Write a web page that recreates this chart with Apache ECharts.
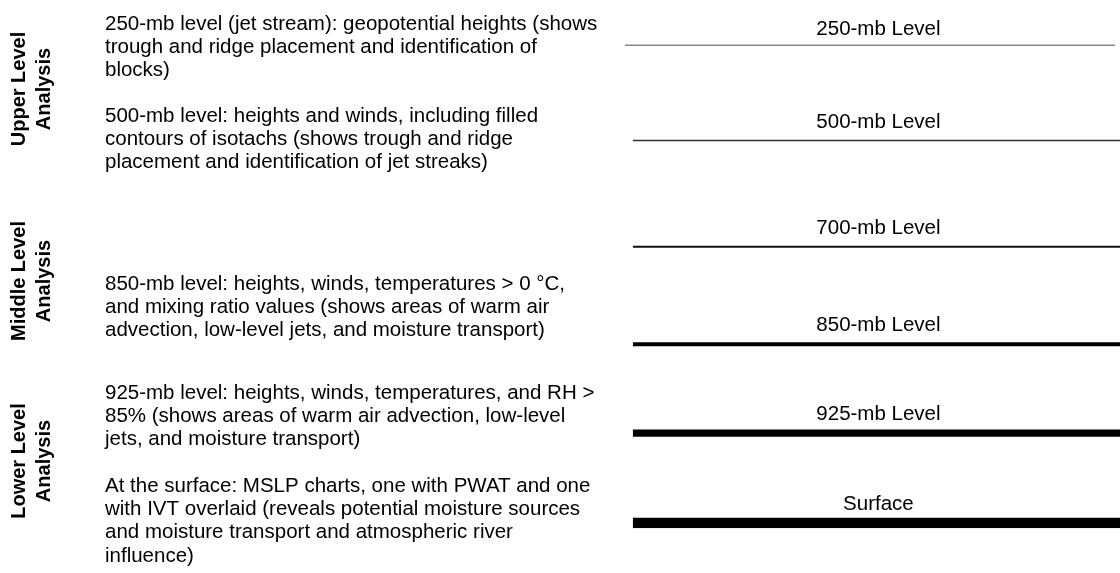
<!DOCTYPE html>
<html>
<head>
<meta charset="utf-8">
<script src="https://cdn.jsdelivr.net/npm/echarts@6/dist/echarts.min.js"></script>
<style>
  html, body { margin: 0; padding: 0; background: #fff; }
  #levels { width: 1120px; height: 573px; }
</style>
</head>
<body>
<div id="levels"></div>
<script>
  // pressure levels, top to bottom
  const levelNames = ['250-mb Level', '500-mb Level', '700-mb Level', '850-mb Level', '925-mb Level', 'Surface']
  const levelRow = [0, 1, 2.11, 3.13, 4.06, 5]          // place on the hidden vertical axis
  const lineSpan = [[0, 0.99], [0.016, 1], [0.016, 1], [0.016, 1], [0.016, 1], [0.016, 1]]
  const labelAt = 0.512

  const sections = ['Upper Level\nAnalysis', 'Middle Level\nAnalysis', 'Lower Level\nAnalysis']
  const descriptions = [
    '250-mb level (jet stream): geopotential heights (shows\ntrough and ridge placement and identification of\nblocks)',
    '500-mb level: heights and winds, including filled\ncontours of isotachs (shows trough and ridge\nplacement and identification of jet streaks)',
    '850-mb level: heights, winds, temperatures > 0 °C,\nand mixing ratio values (shows areas of warm air\nadvection, low-level jets, and moisture transport)',
    '925-mb level: heights, winds, temperatures, and RH >\n85% (shows areas of warm air advection, low-level\njets, and moisture transport)',
    'At the surface: MSLP charts, one with PWAT and one\nwith IVT overlaid (reveals potential moisture sources\nand moisture transport and atmospheric river\ninfluence)'
  ]

  // styling (kept apart from the data)
  const lineWidths = [1.2, 1.5, 2, 4, 7.3, 10.7]
  const lineColors = ['#111', '#333', '#111', '#000', '#000', '#000']
  const labelGap = [5, 8, 8, 8, 8, 8]
  const sectionY = [89, 281, 461]
  const descTop = [12.5, 104.5, 272.5, 381.5, 474.5]
  const font = '"Liberation Sans", Arial, sans-serif'

  let series = levelNames.map(function (name, i) {
    return {
      name: name,
      type: 'line',
      symbol: 'none',
      silent: true,
      lineStyle: { color: lineColors[i], width: lineWidths[i], cap: 'butt' },
      data: [[lineSpan[i][0], levelRow[i]], [lineSpan[i][1], levelRow[i]]]
    }
  })
  series.push({
    type: 'scatter',
    symbolSize: 0,
    silent: true,
    itemStyle: { color: '#000', opacity: 1 },
    data: levelNames.map(function (name, i) {
      return {
        value: [labelAt, levelRow[i]],
        name: name,
        label: { distance: labelGap[i], color: '#000' }
      }
    }),
    label: {
      show: true,
      position: 'top',
      formatter: '{b}',
      color: '#000',
      opacity: 1,
      fontSize: 20.5,
      fontFamily: font
    }
  })

  let graphics = []
  sections.forEach(function (txt, i) {
    graphics.push({
      type: 'text',
      x: 32,
      y: sectionY[i],
      rotation: Math.PI / 2,
      style: {
        text: txt,
        font: 'bold 20px ' + font,
        fill: '#000',
        align: 'center',
        verticalAlign: 'middle',
        lineHeight: 25
      }
    })
  })
  descriptions.forEach(function (txt, i) {
    graphics.push({
      type: 'text',
      x: 105,
      y: descTop[i],
      style: {
        text: txt,
        font: '20.5px ' + font,
        fill: '#000',
        align: 'left',
        verticalAlign: 'top',
        lineHeight: 23.3
      }
    })
  })

  let option = {
    animation: false,
    backgroundColor: '#fff',
    grid: { left: 625, right: 0, top: 45, bottom: 50 },
    xAxis: { type: 'value', min: 0, max: 1, show: false },
    yAxis: { type: 'value', min: 0, max: 5, inverse: true, show: false },
    graphic: graphics,
    series: series
  }

  let myChart = echarts.init(document.getElementById('levels'))
  myChart.setOption(option)
</script>
</body>
</html>
